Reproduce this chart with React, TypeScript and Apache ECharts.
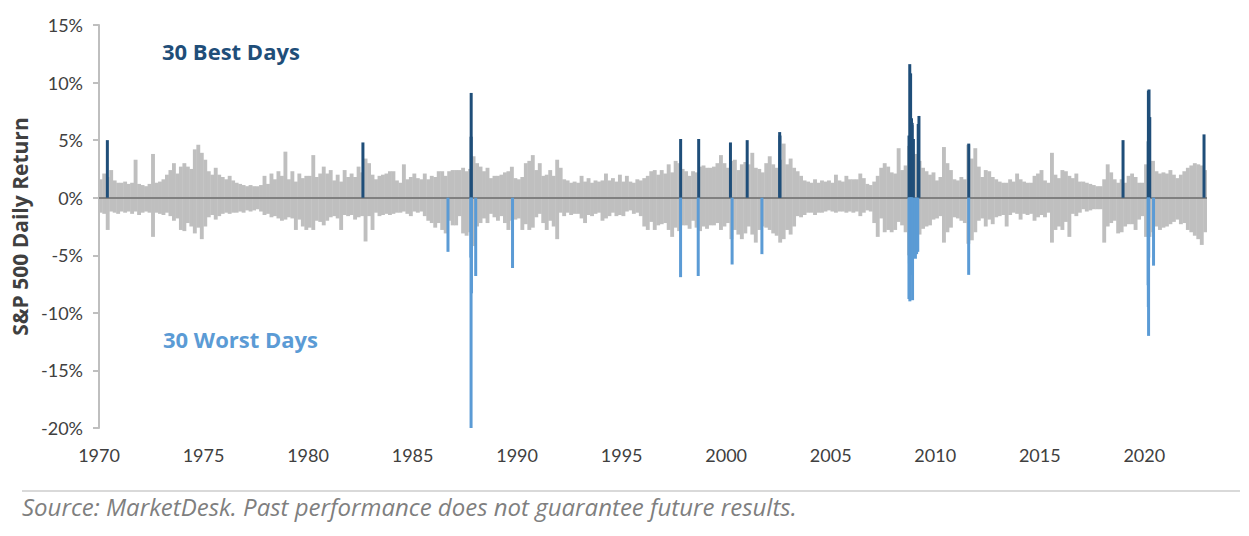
import React, { useEffect, useRef } from "react";
import * as echarts from "echarts";

const START_YEAR = 1970;
const END_YEAR = 2023;
const X_TICK_STEP = 5;
const Y_MIN = -20;
const Y_MAX = 15;
const Y_STEP = 5;

// Gray band: estimated largest up move per two-month period, one row per year (1970..2022)
const grayUp: number[][] = [
  [1.6, 2.1, 1.8, 2.4, 1.5, 1.3],
  [1.3, 1.4, 1.2, 1.3, 3.3, 1.2],
  [1.1, 1.0, 1.2, 3.8, 1.3, 1.4],
  [1.6, 2.0, 2.4, 3.0, 2.1, 2.7],
  [3.0, 2.7, 2.5, 4.2, 4.6, 3.9],
  [3.3, 2.3, 2.0, 2.6, 2.0, 1.8],
  [1.6, 1.9, 1.5, 1.3, 1.2, 1.1],
  [1.0, 1.1, 1.0, 1.0, 1.1, 1.9],
  [1.2, 2.1, 1.6, 2.3, 1.9, 4.0],
  [1.6, 2.3, 1.4, 2.1, 1.7, 1.9],
  [1.9, 3.7, 1.8, 2.1, 2.7, 2.1],
  [2.4, 1.5, 2.0, 1.4, 2.4, 1.8],
  [2.1, 1.8, 2.7, 2.2, 3.4, 3.0],
  [2.0, 1.6, 1.9, 2.0, 2.1, 2.3],
  [2.3, 1.5, 1.3, 2.9, 1.6, 1.8],
  [2.1, 1.7, 1.6, 2.1, 1.6, 1.9],
  [1.8, 2.3, 2.3, 1.9, 2.3, 2.4],
  [2.4, 2.4, 2.6, 2.3, 2.5, 3.6],
  [3.0, 2.7, 2.3, 2.6, 1.7, 1.9],
  [1.9, 2.0, 2.2, 2.3, 2.7, 1.7],
  [1.6, 1.8, 3.0, 3.2, 3.7, 2.4],
  [3.0, 1.9, 2.0, 2.4, 1.9, 3.3],
  [2.6, 1.6, 1.5, 1.3, 1.4, 1.3],
  [1.9, 1.4, 1.7, 1.3, 1.5, 1.4],
  [1.5, 2.1, 1.5, 1.7, 1.4, 2.0],
  [1.4, 1.9, 1.4, 1.3, 1.6, 1.5],
  [1.7, 1.9, 2.3, 2.4, 2.0, 2.4],
  [2.1, 2.9, 2.2, 3.2, 3.0, 2.5],
  [2.3, 1.9, 2.3, 2.2, 2.7, 2.8],
  [2.6, 2.6, 2.7, 3.0, 3.7, 3.0],
  [2.6, 3.2, 3.3, 2.4, 2.9, 3.1],
  [2.9, 3.9, 2.6, 2.5, 2.2, 3.0],
  [3.6, 2.9, 2.6, 3.3, 4.7, 2.9],
  [3.4, 2.6, 2.3, 1.9, 1.5, 1.4],
  [1.3, 1.6, 1.3, 1.5, 1.4, 1.5],
  [1.3, 2.0, 1.5, 1.4, 1.9, 1.6],
  [1.6, 1.6, 2.1, 1.7, 1.2, 1.1],
  [1.4, 1.9, 2.6, 3.0, 2.7, 2.2],
  [2.1, 4.3, 2.4, 2.8, 4.5, 4.0],
  [3.8, 3.2, 2.6, 2.3, 2.0, 2.2],
  [1.5, 1.8, 4.4, 3.0, 2.4, 1.6],
  [1.5, 1.8, 1.6, 4.6, 3.4, 4.3],
  [2.7, 1.8, 2.4, 2.3, 1.8, 1.6],
  [1.4, 1.3, 1.3, 1.6, 1.4, 2.1],
  [1.6, 1.4, 1.3, 1.3, 1.9, 2.1],
  [2.4, 1.5, 1.3, 3.9, 2.0, 1.7],
  [2.4, 2.3, 1.9, 1.7, 2.1, 1.4],
  [1.4, 1.3, 1.2, 1.1, 1.0, 1.0],
  [1.6, 2.9, 2.2, 1.6, 1.3, 1.6],
  [1.3, 1.9, 2.1, 1.8, 1.3, 1.3],
  [2.9, 3.0, 3.2, 2.3, 2.1, 2.2],
  [2.1, 2.4, 2.0, 1.7, 2.0, 2.3],
  [2.6, 2.8, 3.0, 2.9, 2.8, 2.4],
];

// Gray band: estimated largest down move per two-month period (1970..2022)
const grayDown: number[][] = [
  [-1.3, -1.4, -2.8, -1.2, -1.3, -1.4],
  [-1.2, -1.3, -1.2, -1.4, -1.2, -1.5],
  [-1.3, -1.2, -1.3, -3.4, -1.3, -1.4],
  [-1.5, -1.3, -1.6, -2.0, -1.8, -2.8],
  [-2.9, -2.2, -2.5, -3.1, -2.6, -3.6],
  [-2.5, -1.7, -1.5, -1.9, -1.6, -1.4],
  [-1.3, -1.4, -1.3, -1.3, -1.2, -1.3],
  [-1.1, -1.2, -1.1, -1.0, -1.2, -1.5],
  [-1.4, -1.7, -1.6, -1.8, -2.0, -1.9],
  [-1.7, -1.8, -2.8, -1.9, -2.5, -2.8],
  [-2.6, -2.8, -2.0, -2.1, -2.4, -2.0],
  [-1.7, -1.6, -1.8, -2.8, -1.5, -1.6],
  [-1.5, -1.9, -1.7, -1.6, -3.8, -1.6],
  [-2.8, -1.3, -1.6, -1.5, -1.4, -1.5],
  [-1.4, -1.3, -1.3, -1.2, -1.4, -1.6],
  [-1.2, -1.3, -1.2, -1.6, -2.0, -2.2],
  [-2.6, -2.2, -2.8, -3.1, -2.0, -2.4],
  [-2.4, -1.6, -3.1, -3.3, -3.0, -4.2],
  [-2.5, -2.2, -1.8, -2.2, -1.4, -1.7],
  [-2.0, -1.6, -2.2, -2.8, -2.0, -1.9],
  [-1.8, -2.8, -2.3, -2.8, -2.6, -1.7],
  [-1.4, -2.2, -2.8, -2.0, -2.5, -3.6],
  [-1.3, -1.6, -1.3, -1.5, -1.4, -1.4],
  [-1.8, -2.2, -1.5, -1.6, -1.4, -1.3],
  [-2.0, -1.8, -1.6, -1.3, -1.6, -1.5],
  [-1.6, -1.2, -1.1, -1.4, -1.3, -1.6],
  [-2.5, -2.8, -2.1, -2.8, -2.4, -2.3],
  [-2.2, -2.8, -3.4, -2.6, -2.9, -2.4],
  [-2.4, -2.7, -2.0, -2.6, -2.9, -2.5],
  [-2.7, -2.4, -2.4, -2.2, -2.8, -2.5],
  [-2.2, -3.6, -2.8, -3.2, -3.6, -3.1],
  [-2.5, -3.2, -3.9, -2.8, -2.5, -2.6],
  [-2.8, -3.1, -3.3, -3.9, -3.6, -2.8],
  [-3.2, -2.5, -1.6, -1.7, -1.5, -1.3],
  [-1.3, -1.5, -1.3, -1.3, -1.2, -1.1],
  [-1.2, -1.3, -1.2, -1.2, -1.3, -1.2],
  [-1.3, -1.2, -1.6, -1.3, -1.1, -1.2],
  [-2.2, -3.4, -1.8, -3.0, -2.8, -3.0],
  [-2.8, -2.1, -2.4, -3.0, -5.0, -5.0],
  [-4.2, -3.2, -2.7, -2.5, -2.4, -1.9],
  [-1.8, -1.6, -3.9, -3.0, -2.6, -1.7],
  [-1.8, -2.0, -2.2, -4.0, -3.7, -3.0],
  [-2.0, -1.8, -2.5, -1.9, -2.3, -1.7],
  [-1.6, -1.5, -2.5, -1.5, -1.3, -1.4],
  [-1.9, -1.4, -1.5, -1.4, -2.0, -1.7],
  [-1.5, -1.7, -1.3, -3.9, -2.8, -2.5],
  [-2.8, -2.1, -3.4, -1.4, -1.6, -1.3],
  [-1.0, -1.2, -1.1, -1.0, -1.0, -1.0],
  [-3.9, -2.5, -2.2, -2.0, -3.1, -3.0],
  [-2.5, -2.3, -2.3, -2.8, -1.9, -1.6],
  [-3.4, -3.4, -3.0, -2.5, -2.8, -2.6],
  [-2.5, -2.3, -2.1, -1.9, -2.3, -2.2],
  [-2.8, -3.0, -3.3, -3.6, -4.1, -3.0],
];

// 30 best days
const bestDates = [
  "1970-05-27", "1982-08-17", "1987-10-20", "1987-10-21", "1997-10-28",
  "1998-09-08", "2000-03-16", "2001-01-03", "2002-07-24", "2002-07-29",
  "2008-09-30", "2008-10-13", "2008-10-20", "2008-10-28", "2008-11-04",
  "2008-11-13", "2008-11-21", "2008-11-24", "2008-12-16", "2009-03-10",
  "2009-03-23", "2011-08-09", "2018-12-26", "2020-03-10", "2020-03-13",
  "2020-03-17", "2020-03-24", "2020-03-26", "2020-04-06", "2022-11-10",
];
const bestValues = [
  5.0, 4.8, 5.3, 9.1, 5.1,
  5.1, 4.8, 5.0, 5.7, 5.4,
  5.4, 11.6, 4.8, 10.8, 4.1,
  6.9, 6.3, 6.5, 5.1, 6.4,
  7.1, 4.7, 5.0, 4.9, 9.3,
  6.0, 9.4, 6.2, 7.0, 5.5,
];

// 30 worst days
const worstDates = [
  "1986-09-11", "1987-10-16", "1987-10-19", "1987-10-26", "1988-01-08",
  "1989-10-13", "1997-10-27", "1998-08-31", "2000-04-14", "2001-09-17",
  "2008-09-29", "2008-10-07", "2008-10-09", "2008-10-15", "2008-10-22",
  "2008-11-05", "2008-11-06", "2008-11-12", "2008-11-19", "2008-11-20",
  "2008-12-01", "2009-01-20", "2009-02-10", "2009-03-02", "2011-08-08",
  "2020-03-09", "2020-03-12", "2020-03-16", "2020-03-18", "2020-06-11",
];
const worstValues = [
  -4.7, -5.2, -20.5, -8.3, -6.8,
  -6.1, -6.9, -6.8, -5.8, -4.9,
  -8.8, -5.7, -7.6, -9.0, -6.1,
  -5.3, -5.0, -5.2, -6.1, -6.7,
  -8.9, -5.3, -4.9, -4.7, -6.7,
  -7.6, -9.5, -12.0, -5.2, -5.9,
];

const GRAY = "#BFBFBF";
const DARK = "#1F4E79";
const LIGHT = "#5B9BD5";
const TEXT = "#404040";

function decimalYear(d: string): number {
  const [y, m, dd] = d.split("-").map(Number);
  const s = Date.UTC(y, 0, 1);
  const e = Date.UTC(y + 1, 0, 1);
  return y + (Date.UTC(y, m - 1, dd) - s) / (e - s);
}

function periodSeries(rows: number[][]): number[][] {
  const out: number[][] = [];
  rows.forEach((row, yi) => {
    row.forEach((v, i) => {
      out.push([START_YEAR + yi + (i + 0.5) / row.length, v]);
    });
  });
  return out;
}

function barRender(color: string, widthYears: number | null, px: number) {
  return (params: any, api: any) => {
    const x = api.value(0);
    const v = api.value(1);
    const p0 = api.coord([x, 0]);
    const p1 = api.coord([x, v]);
    const w = widthYears ? api.size([widthYears, 0])[0] + 0.4 : px;
    return {
      type: "rect",
      shape: {
        x: p0[0] - w / 2,
        y: Math.min(p0[1], p1[1]),
        width: w,
        height: Math.abs(p1[1] - p0[1]),
      },
      style: { fill: color },
    };
  };
}

export default function App() {
  const ref = useRef<HTMLDivElement>(null);
  useEffect(() => {
    if (!ref.current) return;
    const chart = echarts.init(ref.current, null, { renderer: "svg" });
    const upData = periodSeries(grayUp);
    const downData = periodSeries(grayDown);
    const bestData = bestDates.map((d, i) => [decimalYear(d), bestValues[i]]);
    const worstData = worstDates.map((d, i) => [decimalYear(d), worstValues[i]]);

    chart.setOption({
      animation: false,
      backgroundColor: "#ffffff",
      grid: { left: 99, right: 42, top: 25, bottom: 108 },
      xAxis: {
        type: "value",
        min: START_YEAR,
        max: END_YEAR,
        interval: X_TICK_STEP,
        axisLine: { show: false, onZero: false },
        axisTick: { show: false },
        splitLine: { show: false },
        axisLabel: {
          showMaxLabel: false,
          margin: 18,
          color: TEXT,
          fontFamily: "Lato",
          fontSize: 18,
          formatter: (v: number) => String(v),
        },
      },
      yAxis: {
        type: "value",
        min: Y_MIN,
        max: Y_MAX,
        interval: Y_STEP,
        name: "S&P 500 Daily Return",
        nameLocation: "middle",
        nameGap: 46,
        nameTextStyle: {
          color: TEXT,
          fontFamily: "Open Sans",
          fontWeight: "bold",
          fontSize: 21,
        },
        axisLine: { show: true, lineStyle: { color: "#BFBFBF", width: 2 } },
        axisTick: { show: true, length: 6, lineStyle: { color: "#BFBFBF", width: 2 } },
        splitLine: { show: false },
        axisLabel: {
          margin: 16,
          color: TEXT,
          fontFamily: "Lato",
          fontSize: 18,
          formatter: "{value}%",
        },
      },
      series: [
        {
          type: "custom",
          name: "up",
          renderItem: barRender(GRAY, 1 / 6, 0),
          data: upData,
          encode: { x: 0, y: 1 },
          clip: true,
          z: 1,
          silent: true,
        },
        {
          type: "custom",
          name: "down",
          renderItem: barRender(GRAY, 1 / 6, 0),
          data: downData,
          encode: { x: 0, y: 1 },
          clip: true,
          z: 1,
          silent: true,
          markLine: {
            silent: true,
            symbol: "none",
            label: { show: false },
            lineStyle: { color: "#808080", width: 2, type: "solid" },
            data: [{ yAxis: 0 }],
            z: 2,
          },
        },
        {
          type: "custom",
          name: "best",
          renderItem: barRender(DARK, null, 3),
          data: bestData,
          encode: { x: 0, y: 1 },
          clip: true,
          z: 3,
          silent: true,
        },
        {
          type: "custom",
          name: "worst",
          renderItem: barRender(LIGHT, null, 3),
          data: worstData,
          encode: { x: 0, y: 1 },
          clip: true,
          z: 3,
          silent: true,
        },
      ],
      graphic: [
        {
          type: "text",
          left: 162,
          top: 40,
          style: {
            text: "30 Best Days",
            fill: DARK,
            font: "bold 22px 'Open Sans'",
          },
        },
        {
          type: "text",
          left: 163,
          top: 328,
          style: {
            text: "30 Worst Days",
            fill: LIGHT,
            font: "bold 22px 'Open Sans'",
          },
        },
        {
          type: "line",
          shape: { x1: 22, y1: 491, x2: 1240, y2: 491 },
          style: { stroke: "#D9D9D9", lineWidth: 2 },
        },
        {
          type: "text",
          left: 22,
          top: 494,
          style: {
            text: "Source: MarketDesk. Past performance does not guarantee future results.",
            fill: "#7F7F7F",
            font: "italic 24px 'Open Sans'",
          },
        },
      ],
    });
    return () => chart.dispose();
  }, []);

  return (
    <div
      ref={ref}
      style={{ position: "absolute", left: 0, top: 0, width: 1249, height: 536 }}
    />
  );
}
